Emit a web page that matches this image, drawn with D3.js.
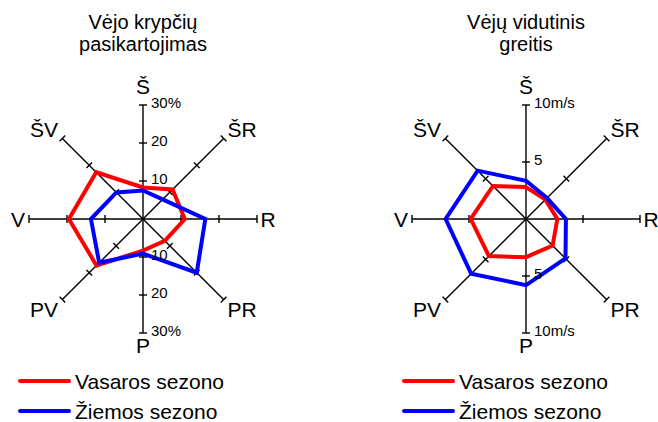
<!DOCTYPE html>
<html>
<head>
<meta charset="utf-8">
<script src="https://cdn.jsdelivr.net/npm/d3@7"></script>
<style>
  body { margin: 0; background: #fff; }
  text { font-family: "Liberation Sans", Arial, sans-serif; fill: #000; }
</style>
</head>
<body>
<svg id="chart" width="658" height="422"></svg>
<script>
// directions, clockwise from north
const directions = ["Š", "ŠR", "R", "PR", "P", "PV", "V", "ŠV"]

// wind direction frequency, %
const freqSummer = [8.3, 11, 11, 8.1, 8.3, 17.3, 19.5, 17.4]
const freqWinter = [7.5, 7.3, 16.4, 20, 9.1, 16.3, 13.7, 9.9]

// mean wind speed, m/s
const speedSummer = [2.8, 2.4, 2.75, 3.3, 3.35, 4.6, 4.85, 4.1]
const speedWinter = [3.35, 2.6, 3.5, 4.9, 5.8, 6.8, 7.05, 6.0]

const freqTicks = [10, 20, 30]
const freqTickLabels = ["10", "20", "30%"]
const speedTicks = [5, 10]
const speedTickLabels = ["5", "10m/s"]

const seasons = ["Vasaros sezono", "Žiemos sezono"]
const seasonColors = ["#ff0000", "#0000ff"]

const svg = d3.select("#chart")
const radius = 114

function drawRose(cx, title, maxVal, ticks, tickLabels, summer, winter) {
  const cy = 219
  const g = svg.append("g").attr("transform", `translate(${cx},${cy})`)
  const r = d3.scaleLinear().domain([0, maxVal]).range([0, radius])
  const angle = i => i * 2 * Math.PI / directions.length

  // title
  svg.append("text")
    .attr("x", cx).attr("y", 29)
    .attr("text-anchor", "middle")
    .style("font-size", "20px")
    .selectAll("tspan")
    .data(title)
    .enter().append("tspan")
    .attr("x", cx)
    .attr("dy", (d, i) => i == 0 ? 0 : 22)
    .text(d => d)

  // axes
  directions.forEach((d, i) => {
    let a = angle(i)
    let sx = Math.sin(a), sy = -Math.cos(a)
    g.append("line")
      .attr("x1", 0).attr("y1", 0)
      .attr("x2", r(maxVal) * sx).attr("y2", r(maxVal) * sy)
      .attr("stroke", "#000")
      .attr("stroke-width", 1.4)
    ticks.forEach(t => {
      let px = r(t) * sx, py = r(t) * sy
      g.append("line")
        .attr("x1", px - 4 * Math.cos(a)).attr("y1", py - 4 * Math.sin(a))
        .attr("x2", px + 4 * Math.cos(a)).attr("y2", py + 4 * Math.sin(a))
        .attr("stroke", "#000")
        .attr("stroke-width", 1.4)
    })
  })

  // series polygons
  const line = d3.lineRadial()
    .angle((d, i) => angle(i))
    .radius(d => r(d))
    .curve(d3.curveLinearClosed)

  ;[summer, winter].forEach((s, k) => {
    g.append("path")
      .attr("d", line(s))
      .attr("fill", "none")
      .attr("stroke", seasonColors[k])
      .attr("stroke-width", 4)
  })

  // tick labels on the north-south axis
  ticks.forEach((t, j) => {
    [-1, 1].forEach(side => {
      g.append("text")
        .attr("x", 8)
        .attr("y", side * r(t) - 2)
        .attr("dy", "0.35em")
        .style("font-size", "15px")
        .text(tickLabels[j])
    })
  })

  // direction labels
  directions.forEach((d, i) => {
    let a = angle(i)
    let x, y
    if (i % 2 == 0) {
      let lr = i == 0 ? 133 : (i == 4 ? 126 : 125)
      x = lr * Math.sin(a)
      y = -lr * Math.cos(a)
    } else {
      x = 99 * Math.sign(Math.sin(a))
      y = -90 * Math.sign(Math.cos(a))
    }
    g.append("text")
      .attr("x", x).attr("y", y)
      .attr("dy", "0.36em")
      .attr("text-anchor", "middle")
      .style("font-size", "21px")
      .text(d)
  })
}

function drawLegend(x) {
  seasons.forEach((s, k) => {
    let y = 381 + k * 30
    svg.append("line")
      .attr("x1", x).attr("x2", x + 49)
      .attr("y1", y).attr("y2", y)
      .attr("stroke", seasonColors[k])
      .attr("stroke-width", 4)
      .attr("stroke-linecap", "round")
    svg.append("text")
      .attr("x", x + 55).attr("y", y)
      .attr("dy", "0.36em")
      .style("font-size", "21px")
      .text(s)
  })
}

drawRose(143, ["Vėjo krypčių", "pasikartojimas"], 30, freqTicks, freqTickLabels, freqSummer, freqWinter)
drawRose(526, ["Vėjų vidutinis", "greitis"], 10, speedTicks, speedTickLabels, speedSummer, speedWinter)
drawLegend(20)
drawLegend(404)
</script>
</body>
</html>
